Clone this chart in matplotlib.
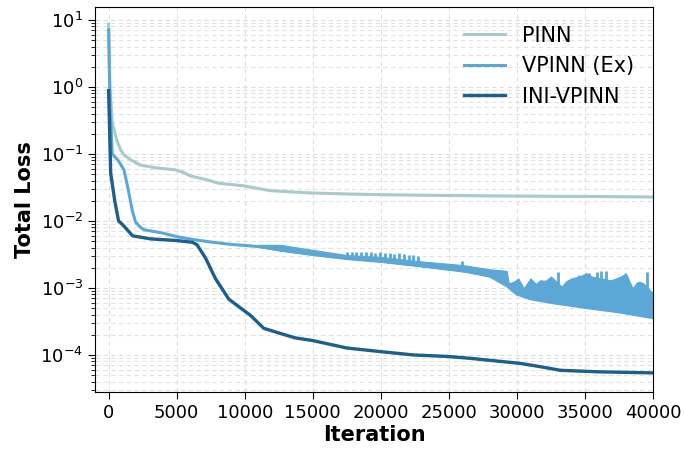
import numpy as np
import matplotlib
matplotlib.use('Agg')
import matplotlib.pyplot as plt

# PINN loss
pinn_it = [0, 100, 270, 600, 880, 1125, 1600, 2350, 3500, 4900, 5500, 6000, 6600, 7260,
           8100, 9900, 10800, 11900, 14600, 17500, 20700, 25000, 30000, 35000, 40000]
pinn_loss = [8.7, 1.0, 0.287, 0.16, 0.115, 0.097, 0.082, 0.068, 0.062, 0.058, 0.053, 0.047,
             0.044, 0.041, 0.0365, 0.0335, 0.031, 0.0283, 0.0263, 0.0253, 0.0245, 0.024,
             0.0235, 0.0232, 0.0228]

# VPINN (Ex) loss, lower edge of the noisy curve
vp_it = [0, 100, 270, 700, 1125, 1300, 1490, 1750, 1980, 2350, 2600, 3960, 5060, 6160, 7340,
         8830, 11300, 12600, 15000, 17500, 20000, 22900, 26600, 28000, 29300, 30000, 31000,
         32700, 35100, 37500, 40000]
vp_loss = [7.1, 0.5, 0.1, 0.08, 0.058, 0.04, 0.026, 0.014, 0.0096, 0.0080, 0.0074, 0.0066,
           0.0058, 0.0053, 0.0049, 0.0045, 0.0041, 0.0037, 0.0032, 0.0028, 0.00253, 0.00217,
           0.00173, 0.00151, 0.00107, 0.00081, 0.00069, 0.0006, 0.00051, 0.00044, 0.00036]

# VPINN (Ex) noise band
band_it = [11000, 12600, 15000, 17500, 20000, 22900, 26000, 28000, 29250, 29400, 29800, 30100,
           30500, 31000, 31400, 31700, 32100, 32500, 33300, 33600, 34000, 34600, 35100, 35500,
           36900, 37300, 37700, 38000, 38500, 38800, 39000, 39300, 40000]
band_lo = [0.0041, 0.0036, 0.0031, 0.0027, 0.00245, 0.0021, 0.00178, 0.00148, 0.00112,
           0.00102, 0.0009, 0.00082, 0.00078, 0.00069, 0.00067, 0.00066, 0.00063, 0.00061,
           0.00058, 0.00057, 0.00055, 0.00053, 0.00051, 0.0005, 0.00047, 0.00046, 0.00045,
           0.00044, 0.00043, 0.00042, 0.00041, 0.0004, 0.00036]
band_hi = [0.0044, 0.0044, 0.0037, 0.0031, 0.0029, 0.0025, 0.0022, 0.0019, 0.0018, 0.00117,
           0.00125, 0.00139, 0.00099, 0.00139, 0.00115, 0.0013, 0.00128, 0.00148, 0.00105,
           0.00125, 0.00139, 0.00148, 0.00166, 0.00148, 0.0013, 0.00139, 0.0015, 0.00166,
           0.00099, 0.0012, 0.00124, 0.00117, 0.00083]

# VPINN (Ex) tall spikes
spike_it = [17500, 17850, 18200, 18550, 18900, 19250, 19600, 19950, 20300, 20650, 21000,
            21350, 21700, 22050, 22400, 22750, 26000, 33050, 34530, 35260, 35870, 36190,
            36550, 39540]
spike_top = [0.0035, 0.0035, 0.0034, 0.0035, 0.0034, 0.0034, 0.0033, 0.0034, 0.0033, 0.0033,
             0.0032, 0.0033, 0.0032, 0.0031, 0.0031, 0.0030, 0.0025, 0.00175, 0.00158,
             0.00166, 0.00175, 0.0018, 0.0018, 0.00175]
spike_base = [0.0030, 0.0030, 0.0029, 0.0029, 0.0028, 0.0028, 0.0028, 0.0027, 0.0027, 0.0026,
              0.0026, 0.0025, 0.0025, 0.0024, 0.0024, 0.0023, 0.0020, 0.0006, 0.00054,
              0.00052, 0.0005, 0.0005, 0.00049, 0.00038]

# INI-VPINN loss
ini_it = [0, 60, 150, 450, 730, 1100, 1760, 3080, 5000, 6160, 6500, 7120, 7850, 8830, 10420,
          11400, 12600, 13700, 15000, 17500, 20000, 22400, 24900, 26600, 27300, 30200, 31500,
          33200, 36000, 40000]
ini_loss = [0.88, 0.3, 0.052, 0.02, 0.0100, 0.0085, 0.0060, 0.0054, 0.0051, 0.0048, 0.0044,
            0.0028, 0.00138, 0.00068, 0.00039, 0.00025, 0.00021, 0.00018, 0.000164, 0.000127,
            0.000112, 0.0001, 0.000095, 0.000089, 0.000086, 0.000075, 0.000068, 0.000059,
            0.000056, 0.000054]

c_pinn = '#a6cbca'
c_vp = '#5ba8d6'
c_ini = '#1d5e8c'

fig = plt.figure(figsize=(6.85, 4.5), dpi=100)
ax = fig.add_axes([0.1387, 0.1289, 0.8146, 0.8555])
ax.set_yscale('log')
ax.set_axisbelow(True)

ax.plot(pinn_it, pinn_loss, color=c_pinn, lw=2.2, label='PINN')
ax.fill_between(band_it, band_lo, band_hi, color=c_vp, lw=0.8, edgecolor=c_vp, zorder=2)
ax.vlines(spike_it, spike_base, spike_top, color=c_vp, lw=2, zorder=2)
ax.plot(vp_it, vp_loss, color=c_vp, lw=2.2, label='VPINN (Ex)')
ax.plot(ini_it, ini_loss, color=c_ini, lw=2.4, label='INI-VPINN')

ax.set_xlim(-1000, 40000)
ax.set_ylim(2.8e-5, 15.6)
ax.set_xticks([0, 5000, 10000, 15000, 20000, 25000, 30000, 35000, 40000])
ax.grid(True, which='major', ls=(0, (4, 3)), color='#dddddd', lw=0.8)
ax.grid(True, which='minor', axis='y', ls=(0, (4, 3)), color='#e2e2e2', lw=0.8)
ax.tick_params(labelsize=13)
ax.tick_params(which='major', length=5)
ax.tick_params(which='minor', length=3)
ax.set_xlabel('Iteration', fontsize=15, fontweight='bold', labelpad=2)
ax.set_ylabel('Total Loss', fontsize=15, fontweight='bold')
ax.legend(loc='upper right', fontsize=15, frameon=False)

fig.savefig('out.png', dpi=100)
